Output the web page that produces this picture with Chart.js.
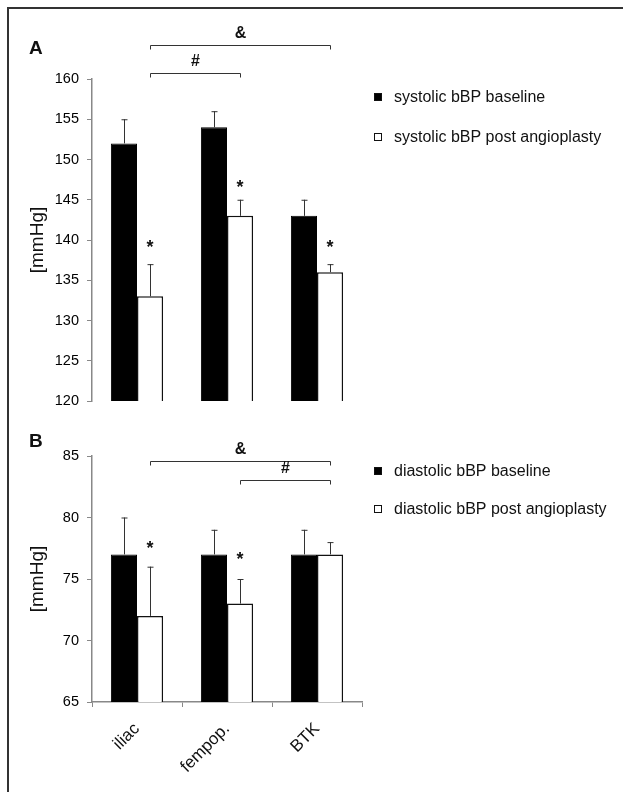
<!DOCTYPE html>
<html>
<head>
<meta charset="utf-8">
<script src="https://cdn.jsdelivr.net/npm/chart.js@4.4.1/dist/chart.umd.min.js"></script>
<style>
  body { margin:0; background:#fff; }
  #page { position:relative; width:623px; height:792px; overflow:hidden; }
  #frame { position:absolute; left:7px; top:7px; width:700px; height:900px; border-left:2px solid #333; border-top:2px solid #333; }
  .box { position:absolute; left:0; width:623px; }
</style>
</head>
<body>
<div id="page">
  <div id="frame"></div>
  <div class="box" style="top:0;height:420px"><canvas id="chartA"></canvas></div>
  <div class="box" style="top:410px;height:382px"><canvas id="chartB"></canvas></div>
</div>
<script>
// sites
var sites = ['iliac', 'fempop.', 'BTK'];

// panel A, systolic (mean and top of error bar)
var sysBase = [152, 154, 143];
var sysBaseErr = [155, 156, 145];
var sysPost = [133, 143, 136];
var sysPostErr = [137, 145, 137];

// panel B, diastolic
var diaBase = [77, 77, 77];
var diaBaseErr = [80, 79, 79];
var diaPost = [72, 73, 77];
var diaPostErr = [76, 75, 78];

var FONT = '"Liberation Sans", Arial, sans-serif';

// custom drawing: error bars, asterisks, brackets, legend, panel letter
var extras = {
  id: 'extras',
  afterDatasetsDraw: function(chart) {
    var c = chart.ctx, o = chart.options.plugins.extras;
    var y = chart.scales.y;
    c.save();
    c.strokeStyle = '#333';
    c.lineWidth = 1;
    chart.data.datasets.forEach(function(ds, di) {
      var meta = chart.getDatasetMeta(di);
      meta.data.forEach(function(bar, i) {
        var yt = y.getPixelForValue(ds.errTop[i]);
        var x = Math.round(bar.x) + 0.5;
        c.beginPath();
        c.moveTo(x, bar.y); c.lineTo(x, yt);
        c.moveTo(x - 3, yt + 0.5); c.lineTo(x + 3, yt + 0.5);
        c.stroke();
      });
    });
    // stars over the post bars
    c.fillStyle = '#111';
    c.font = 'bold 18px ' + FONT;
    c.textAlign = 'center';
    c.textBaseline = 'middle';
    var postMeta = chart.getDatasetMeta(1);
    o.stars.forEach(function(s) {
      var bar = postMeta.data[s.i];
      c.fillText('*', bar.x, y.getPixelForValue(s.v) + 4);
    });
    // brackets between post bars
    c.font = 'bold 16px ' + FONT;
    o.brackets.forEach(function(b) {
      var x1 = Math.round(postMeta.data[b.from].x) + 0.5;
      var x2 = Math.round(postMeta.data[b.to].x) + 0.5;
      var yy = Math.round(b.y) + 0.5;
      c.beginPath();
      c.moveTo(x1, yy + 4); c.lineTo(x1, yy); c.lineTo(x2, yy); c.lineTo(x2, yy + 4);
      c.stroke();
      c.fillText(b.label, (x1 + x2) / 2, yy - 12);
    });
    // legend
    c.textAlign = 'left';
    c.font = '16px ' + FONT;
    chart.data.datasets.forEach(function(ds, di) {
      var ly = o.legendY[di];
      c.fillStyle = ds.backgroundColor;
      c.fillRect(374, ly - 4, 8, 8);
      c.strokeStyle = '#111';
      c.strokeRect(374.5, ly - 3.5, 7, 7);
      c.fillStyle = '#111';
      c.fillText(ds.label, 394, ly + 1);
    });
    // panel letter
    c.font = 'bold 19px ' + FONT;
    c.fillText(o.letter, 29, o.letterY);
    c.restore();
  }
};

function makeChart(id, base, baseErr, post, postErr, labelBase, labelPost, yMin, yMax, pad, showX, extra) {
  return new Chart(document.getElementById(id), {
    type: 'bar',
    data: {
      labels: sites,
      datasets: [
        { label: labelBase, data: base, errTop: baseErr, backgroundColor: '#000', borderColor: '#000', borderWidth: 1 },
        { label: labelPost, data: post, errTop: postErr, backgroundColor: '#fff', borderColor: '#111', borderWidth: 1.5 }
      ]
    },
    options: {
      responsive: true,
      maintainAspectRatio: false,
      animation: false,
      layout: { padding: pad },
      datasets: { bar: { categoryPercentage: 0.58, barPercentage: 1 } },
      plugins: { legend: { display: false }, tooltip: { enabled: false }, extras: extra },
      scales: {
        x: {
          display: showX,
          grid: { offset: true, drawOnChartArea: false, tickLength: 5, color: '#888' },
          border: { color: '#888', width: 1.5 },
          ticks: { color: '#111', font: { family: FONT, size: 17 }, minRotation: 45, maxRotation: 45, padding: 12 },
          afterFit: function(s) { if (showX) s.height = 80; }
        },
        y: {
          min: yMin, max: yMax,
          grid: { drawOnChartArea: false, tickLength: 5, color: '#888' },
          border: { color: '#888', width: 1.5 },
          ticks: { stepSize: 5, color: '#000', font: { family: FONT, size: 14.5 }, padding: 8 },
          title: { display: true, text: '[mmHg]', color: '#111', font: { family: FONT, size: 19 }, padding: { top: 2, bottom: 0 } },
          afterFit: function(s) { s.width = 68; }
        }
      }
    },
    plugins: [extras]
  });
}

makeChart('chartA', sysBase, sysBaseErr, sysPost, sysPostErr,
  'systolic bBP baseline', 'systolic bBP post angioplasty', 120, 160,
  { left: 24, right: 261, top: 79, bottom: 19 }, false,
  {
    letter: 'A', letterY: 49, legendY: [97, 137],
    stars: [{ i: 0, v: 139.5 }, { i: 1, v: 147 }, { i: 2, v: 139.5 }],
    brackets: [{ from: 0, to: 2, y: 45, label: '&' }, { from: 0, to: 1, y: 73, label: '#' }]
  });

makeChart('chartB', diaBase, diaBaseErr, diaPost, diaPostErr,
  'diastolic bBP baseline', 'diastolic bBP post angioplasty', 65, 85,
  { left: 24, right: 261, top: 46, bottom: 10 }, true,
  {
    letter: 'B', letterY: 32, legendY: [61, 99],
    stars: [{ i: 0, v: 77.8 }, { i: 1, v: 76.9 }],
    brackets: [{ from: 0, to: 2, y: 51, label: '&' }, { from: 1, to: 2, y: 70, label: '#' }]
  });
</script>
</body>
</html>
